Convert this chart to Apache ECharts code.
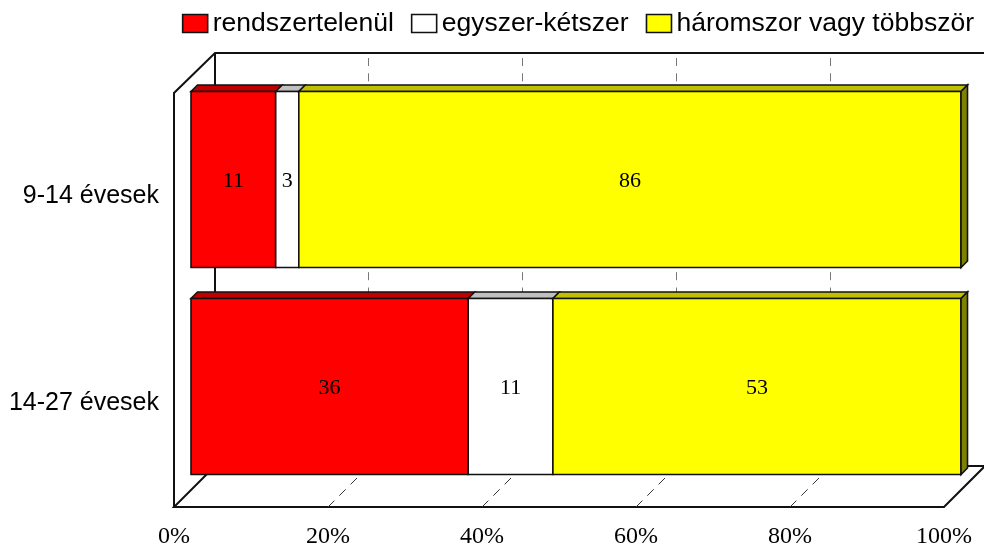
<!DOCTYPE html>
<html>
<head>
<meta charset="utf-8">
<style>
  html, body { margin: 0; padding: 0; background: #fff; }
  #chart { width: 984px; height: 544px; }
</style>
<script src="https://cdn.jsdelivr.net/npm/echarts@6/dist/echarts.min.js"></script>
</head>
<body>
<div id="chart"></div>
<script>
const categories = ['9-14 évesek', '14-27 évesek']
const seriesNames = ['rendszertelenül', 'egyszer-kétszer', 'háromszor vagy többször']
const rendszertelenul = [11, 36]
const egyszerKetszer = [3, 11]
const haromszor = [86, 53]
const gridTicks = [20, 40, 60, 80]

const faceColors = ['#ff0000', '#ffffff', '#ffff00']
const topColors = ['#c00000', '#c0c0c0', '#c0c000']
const sideColors = ['#800000', '#808080', '#808000']
const lineColor = '#111'
const depth = 41 // 前后墙之间的偏移
const barDepth = 6.5 // 柱子的厚度

const allValues = [rendszertelenul, egyszerKetszer, haromszor]

// 单个 3D 柱子: 正面 + 顶面 + 侧面 + 数值
function renderBar (seriesIndex, isLast) {
  return function (params, api) {
    const catIndex = api.value(0)
    const value = api.value(1)
    const start = api.value(2)
    const tl = api.coord([start, catIndex])
    const br = api.coord([start + value, catIndex])
    const h = api.size([0, 1])[1] * 0.85
    const x0 = tl[0]
    const x1 = br[0]
    const y0 = tl[1] - h / 2
    const y1 = tl[1] + h / 2
    const stroke = { stroke: lineColor, lineWidth: 1.6, lineJoin: 'miter' }
    const children = [
      {
        type: 'polygon',
        shape: { points: [[x0, y0], [x0 + barDepth, y0 - barDepth], [x1 + barDepth, y0 - barDepth], [x1, y0]] },
        style: Object.assign({ fill: topColors[seriesIndex] }, stroke)
      },
      {
        type: 'rect',
        shape: { x: x0, y: y0, width: x1 - x0, height: y1 - y0 },
        style: Object.assign({ fill: faceColors[seriesIndex] }, stroke)
      },
      {
        type: 'text',
        style: {
          x: (x0 + x1) / 2,
          y: (y0 + y1) / 2 + 2,
          text: String(value),
          fill: '#000',
          font: '22px "Liberation Serif"',
          align: 'center',
          verticalAlign: 'middle'
        }
      }
    ]
    if (isLast) {
      children.push({
        type: 'polygon',
        shape: { points: [[x1, y0], [x1 + barDepth, y0 - barDepth], [x1 + barDepth, y1 - barDepth], [x1, y1]] },
        style: Object.assign({ fill: sideColors[seriesIndex] }, stroke)
      })
    }
    return { type: 'group', children: children }
  }
}

// 前平面的上下边界: 分类轴只能取到中心点, 再用带宽算边
function frontEdges (api) {
  const band = api.size([0, 1])[1]
  const first = api.coord([0, 0])
  const last = api.coord([100, 1])
  return { x0: first[0], x1: last[0], top: first[1] - band / 2, bottom: last[1] + band / 2 }
}

// 墙和地面的框线, 用前平面的坐标轴计算
function renderFrame (params, api) {
  const e = frontEdges(api)
  const backTop = e.top - depth + 1
  const backBottom = e.bottom - depth
  const line = { stroke: lineColor, lineWidth: 2, fill: null }
  return {
    type: 'group',
    children: [
      {
        type: 'polyline',
        shape: { points: [[e.x0, e.bottom], [e.x0, e.top], [e.x0 + depth, backTop], [e.x1 + depth, backTop]] },
        style: line
      },
      {
        type: 'polyline',
        shape: { points: [[e.x0 + depth, backTop], [e.x0 + depth, backBottom]] },
        style: line
      },
      {
        type: 'polygon',
        shape: { points: [[e.x0, e.bottom], [e.x1, e.bottom], [e.x1 + depth, backBottom], [e.x0 + depth, backBottom]] },
        style: line
      }
    ]
  }
}

// 虚线网格: 后墙一段 + 地面一段
function renderGridLine (params, api) {
  const e = frontEdges(api)
  const x = api.coord([api.value(0), 0])[0]
  const bx = x + depth
  const by = e.bottom - depth
  const topY = e.top - depth + 1
  const dash = { stroke: '#777', lineWidth: 1, lineDash: [8, 7.3], lineDashOffset: 10.3 }
  return {
    type: 'group',
    children: [
      { type: 'line', shape: { x1: bx - 0.5, y1: topY, x2: bx - 0.5, y2: by }, style: dash },
      { type: 'line', shape: { x1: x, y1: e.bottom, x2: bx, y2: by }, style: { stroke: '#333', lineWidth: 1, lineDash: [9, 7] } }
    ]
  }
}

function barData (index) {
  return categories.map((c, i) => {
    let start = 0
    for (let s = 0; s < index; s++) start += allValues[s][i]
    return [i, allValues[index][i], start]
  })
}

const chartInstance = echarts.init(document.getElementById('chart'))
chartInstance.setOption({
  animation: false,
  backgroundColor: '#fff',
  legend: {
    top: 5,
    right: 5,
    icon: 'rect',
    itemWidth: 25,
    itemHeight: 18,
    itemGap: 17,
    selectedMode: false,
    data: seriesNames.map((name, i) => ({
      name: name,
      itemStyle: { color: faceColors[i], borderColor: lineColor, borderWidth: 1.6 }
    })),
    textStyle: { fontFamily: 'Liberation Sans', fontSize: 26.5, color: '#000' }
  },
  grid: [
    // 柱子所在的中间平面
    { left: 191, right: 23, top: 76, bottom: 54, outerBoundsMode: 'none' },
    // 前平面, 用来放坐标轴文字和框线
    { left: 174, right: 40, top: 93, bottom: 37, outerBoundsMode: 'none' }
  ],
  xAxis: [
    { gridIndex: 0, type: 'value', min: 0, max: 100, interval: 20, show: false },
    {
      gridIndex: 1,
      type: 'value',
      min: 0,
      max: 100,
      interval: 20,
      axisLine: { show: false },
      axisTick: { show: false },
      splitLine: { show: false },
      axisLabel: {
        formatter: '{value}%',
        margin: 18,
        fontFamily: 'Liberation Serif',
        fontSize: 24,
        color: '#000'
      }
    }
  ],
  yAxis: [
    { gridIndex: 0, type: 'category', inverse: true, data: categories, show: false },
    {
      gridIndex: 1,
      type: 'category',
      inverse: true,
      data: categories,
      axisLine: { show: false },
      axisTick: { show: false },
      axisLabel: {
        margin: 15,
        padding: [4, 0, 0, 0],
        fontFamily: 'Liberation Sans',
        fontSize: 25,
        color: '#000'
      }
    }
  ],
  series: [
    {
      type: 'custom',
      name: 'frame',
      xAxisIndex: 1,
      yAxisIndex: 1,
      silent: true,
      data: [[0]],
      encode: { x: 0 },
      renderItem: renderFrame,
      z: 1
    },
    {
      type: 'custom',
      name: 'gridlines',
      xAxisIndex: 1,
      yAxisIndex: 1,
      silent: true,
      data: gridTicks.map(t => [t]),
      encode: { x: 0 },
      renderItem: renderGridLine,
      z: 2
    }
  ].concat(seriesNames.map((name, i) => ({
    type: 'custom',
    name: name,
    xAxisIndex: 0,
    yAxisIndex: 0,
    itemStyle: { color: faceColors[i] },
    data: barData(i),
    encode: { x: [1, 2], y: 0 },
    renderItem: renderBar(i, i === seriesNames.length - 1),
    z: 3
  })))
})
</script>
</body>
</html>
